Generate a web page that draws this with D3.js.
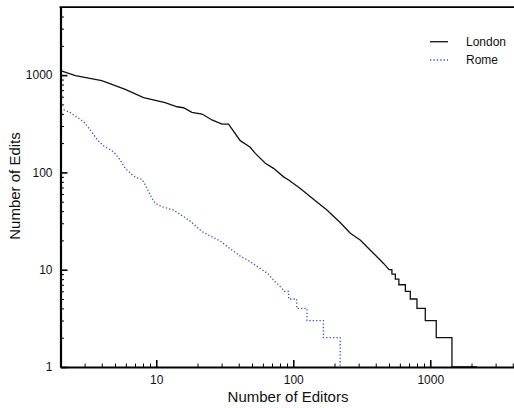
<html>
<head>
  <script src="https://d3js.org/d3.v7.min.js"></script>
  <style>
    body { margin: 0; background: #fff; }
    text { font-family: "Liberation Sans", Arial, Helvetica, sans-serif; }
  </style>
</head>
<body>
  <svg id="chart" width="514" height="408"></svg>
  <script>
    // rank-style distributions
    const londonEditors = [2, 2.57, 4.0, 5.94, 8.08, 11.6, 14.2, 15.8, 18.2, 21.6, 25.5, 30.2, 33.7, 41, 45.9, 48.5, 52.8, 62.5, 71.8, 85, 92.5, 112, 145, 176, 220, 261, 308, 386, 456];
    const londonEdits = [1110, 986, 877, 714, 586, 520, 473, 462, 415, 398, 346, 314, 313, 212, 191, 181, 157, 124, 110, 90, 83.5, 68.7, 51, 41, 30.5, 23.7, 20.2, 14.7, 11.6];
    // stair tail: each level holds until the next editor count
    const londonStepEditors = [500, 525, 556, 590, 658, 715, 800, 920, 1106, 1440, 2200];
    const londonStepEdits = [10, 9, 8, 7, 6, 5, 4, 3, 2, 1, 1];

    const romeEditors = [2, 2.36, 2.95, 3.3, 3.69, 4.13, 4.88, 5.46, 5.94, 6.83, 7.23, 7.87, 8.55, 9.3, 9.84, 11.0, 13.4, 17.5, 21.6, 25.5, 29.3, 35.7, 41, 48.5, 59.2, 66, 71.8, 80.4];
    const romeEdits = [456, 411, 332, 273, 219, 187, 163, 134, 110, 91.8, 88, 85, 68.7, 54.2, 48.1, 44.4, 41, 32, 24.6, 21.8, 19.7, 15.9, 13.8, 12.1, 10, 9.0, 7.8, 6.7];
    const romeStepEditors = [86, 92.5, 106, 126, 166, 220];
    const romeStepEdits = [6, 5, 4, 3, 2, 1];

    const xMajor = [10, 100, 1000];
    const yMajor = [1, 10, 100, 1000];
    const seriesNames = ["London", "Rome"];

    const svg = d3.select("#chart");
    const x = d3.scaleLog().domain([2, 5000]).range([60.5, 60.5 + 137 * Math.log10(2500)]);
    const y = d3.scaleLog().domain([1, 5000]).range([367, 7.1]);

    function minors(lo, hi) {
      const out = [];
      for (let p = 1; p <= 1000; p *= 10)
        for (let k = 2; k <= 9; k++) {
          const v = k * p;
          if (v > lo && v < hi) out.push(v);
        }
      return out;
    }

    function buildPoints(xs, ys, sx, sy) {
      const pts = xs.map((d, i) => [d, ys[i]]);
      sx.forEach((d, i) => {
        pts.push([d, sy[i]]);
        if (i < sx.length - 1) pts.push([sx[i + 1], sy[i]]);
      });
      return pts;
    }

    const line = d3.line().x(d => x(d[0])).y(d => y(d[1]));

    const plot = svg.append("g");
    plot.append("path")
      .attr("d", line(buildPoints(romeEditors, romeEdits, romeStepEditors, romeStepEdits)))
      .attr("fill", "none")
      .attr("stroke", "#3c4fd0")
      .attr("stroke-width", 1.3)
      .attr("stroke-dasharray", "1.3 2.1");
    plot.append("path")
      .attr("d", line(buildPoints(londonEditors, londonEdits, londonStepEditors, londonStepEdits)))
      .attr("fill", "none")
      .attr("stroke", "#111")
      .attr("stroke-width", 1.3);

    // minor ticks
    svg.append("g").attr("transform", "translate(0,367)")
      .call(d3.axisBottom(x).tickValues(minors(2, 5000)).tickFormat("").tickSizeInner(-3.5).tickSizeOuter(0))
      .call(g => g.select(".domain").remove());
    svg.append("g").attr("transform", "translate(60.5,0)")
      .call(d3.axisLeft(y).tickValues(minors(1, 5000)).tickFormat("").tickSizeInner(-3.5).tickSizeOuter(0))
      .call(g => g.select(".domain").remove());

    // major ticks with labels
    svg.append("g").attr("transform", "translate(0,367)")
      .call(d3.axisBottom(x).tickValues(xMajor).tickFormat(d3.format("d")).tickSizeInner(-7).tickSizeOuter(0).tickPadding(8))
      .call(g => g.select(".domain").attr("stroke-width", 2.2))
      .call(g => g.selectAll(".tick line").attr("stroke-width", 1.6))
      .call(g => g.selectAll("text").attr("font-size", 12).attr("fill", "#111"));
    svg.append("g").attr("transform", "translate(60.5,0)")
      .call(d3.axisLeft(y).tickValues(yMajor).tickFormat(d3.format("d")).tickSizeInner(-7).tickSizeOuter(0).tickPadding(8))
      .call(g => g.select(".domain").attr("stroke-width", 2.2))
      .call(g => g.selectAll(".tick line").attr("stroke-width", 1.6))
      .call(g => g.selectAll("text").attr("font-size", 12).attr("fill", "#111"));

    // top frame
    svg.append("line")
      .attr("x1", 59.5).attr("x2", 514)
      .attr("y1", y(5000)).attr("y2", y(5000))
      .attr("stroke", "#000").attr("stroke-width", 1.6);

    // axis titles
    svg.append("text")
      .attr("x", 288).attr("y", 401.5)
      .attr("text-anchor", "middle")
      .attr("font-size", 15).attr("fill", "#111")
      .text("Number of Editors");
    svg.append("text")
      .attr("transform", "translate(20,186) rotate(-90)")
      .attr("text-anchor", "middle")
      .attr("font-size", 15).attr("fill", "#111")
      .text("Number of Edits");

    // legend
    const legend = svg.append("g");
    seriesNames.forEach((name, i) => {
      const ly = 41.7 + i * 18.3;
      legend.append("line")
        .attr("x1", 430).attr("x2", 448).attr("y1", ly).attr("y2", ly)
        .attr("stroke", i === 0 ? "#111" : "#3c4fd0")
        .attr("stroke-width", 1.3)
        .attr("stroke-dasharray", i === 0 ? null : "1.3 2.1");
      legend.append("text")
        .attr("x", 466).attr("y", ly + 4)
        .attr("font-size", 12).attr("fill", "#111")
        .text(name);
    });
  </script>
</body>
</html>
